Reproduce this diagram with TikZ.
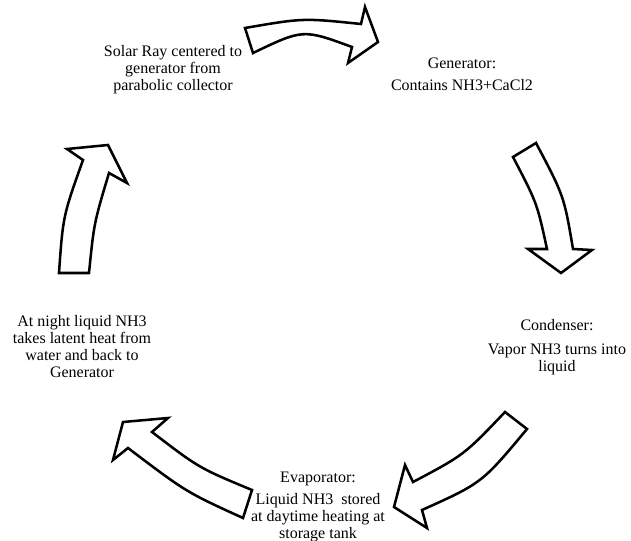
\documentclass[tikz,border=0pt]{standalone}
\usepackage{fontspec}
\setmainfont{Liberation Serif}
\usetikzlibrary{positioning}

\begin{document}
\begin{tikzpicture}
	[x=0.75pt, y=-0.75pt,
	 blockarrow/.style={draw, line width=1.9pt, line join=miter, fill=white},
	 txt/.style={align=center, inner sep=0pt, font=\fontsize{12}{12.75}\selectfont}]
   \useasboundingbox (0,0) rectangle (631,541);
   % stages
   \node[txt] (solar) at (173,70) {Solar Ray centered to\\generator from\\parabolic collector};
   \node[txt] (gen)   at (462,74) {Generator:\\[4pt]Contains NH3+CaCl2};
   \node[txt] (cond)  at (557,347) {Condenser:\\[5pt]Vapor NH3 turns into\\liquid};
   \node[txt] (evap)  at (318,507) {Evaporator:\\[4pt]Liquid NH3\ \ stored\\at daytime heating at\\storage tank};
   \node[txt] (night) at (82,347) {At night liquid NH3\\takes latent heat from\\water and back to\\Generator};
   % block arrows
   \draw[blockarrow] (245,28) .. controls (303,18) .. (361,24) -- (365,7) -- (378,42)
      -- (348,63) -- (352,47) .. controls (303,29) .. (253,53) -- cycle;
   \draw[blockarrow] (536,143) -- (513,157) .. controls (537,203) .. (547,249) -- (528,249)
      -- (561,273) -- (592,250) -- (573,249) .. controls (564,196) .. cycle;
   \draw[blockarrow] (505,412) .. controls (464,455) .. (413,482) -- (405,465) -- (394,507)
      -- (427,528) -- (422,510) .. controls (482,483) .. (527,429) -- cycle;
   \draw[blockarrow] (252,490) .. controls (199,468) .. (152,432) -- (168,418) -- (123,422)
      -- (113,460) -- (128,448) .. controls (186,492) .. (243,518) -- cycle;
   \draw[blockarrow] (59,273) .. controls (63,216) .. (83,160) -- (67,149) -- (108,145)
      -- (127,183) -- (109,173) .. controls (94,223) .. (89,273) -- cycle;
\end{tikzpicture}
\end{document}
